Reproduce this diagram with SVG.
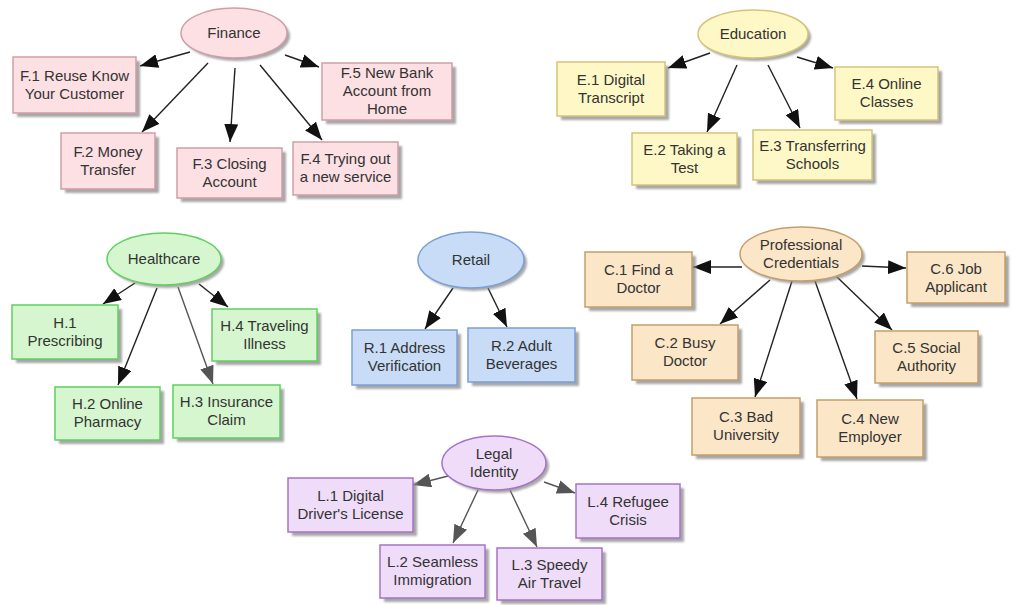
<svg xmlns="http://www.w3.org/2000/svg" width="1011" height="605" viewBox="0 0 1011 605">
<defs>
<style>
text{font-family:"Liberation Sans",Arial,sans-serif;font-size:15px;fill:#333;text-anchor:middle}
.sh{fill:#8a8a8a;opacity:.75;filter:url(#blur)}
.fin{fill:#fce0e4;stroke:#cf9ea8;stroke-width:1.5}
.edu{fill:#fdf8c6;stroke:#d4c47a;stroke-width:1.5}
.hea{fill:#d6f6d0;stroke:#5fd05f;stroke-width:1.5}
.ret{fill:#c8dcf7;stroke:#7b9fd8;stroke-width:1.5}
.cre{fill:#fbe6c8;stroke:#c49e6a;stroke-width:1.5}
.leg{fill:#eedcf9;stroke:#a673c8;stroke-width:1.5}
.e{stroke:#222;stroke-width:1.4;fill:none;marker-end:url(#ah)}
.g{stroke:#555;stroke-width:1.4;fill:none;marker-end:url(#ahg)}
</style>
<filter id="blur" x="-10%" y="-10%" width="130%" height="130%"><feGaussianBlur stdDeviation="1"/></filter>
<marker id="ah" markerUnits="userSpaceOnUse" markerWidth="18" markerHeight="14" refX="18" refY="7" orient="auto"><path d="M0,0 L18,7 L0,14 z" fill="#111"/></marker>
<marker id="ahg" markerUnits="userSpaceOnUse" markerWidth="18" markerHeight="14" refX="18" refY="7" orient="auto"><path d="M0,0 L18,7 L0,14 z" fill="#555"/></marker>
</defs>
<rect width="1011" height="605" fill="#fff"/>

<g id="connectors">
<line class="e" x1="190" y1="52" x2="140" y2="66"/>
<line class="e" x1="208" y1="63" x2="142" y2="132"/>
<line class="e" x1="235" y1="68" x2="230" y2="142"/>
<line class="e" x1="260" y1="65" x2="322" y2="140"/>
<line class="e" x1="285" y1="55" x2="319" y2="67"/>

<line class="e" x1="710" y1="53" x2="668" y2="68"/>
<line class="e" x1="737" y1="65" x2="707" y2="132"/>
<line class="e" x1="768" y1="65" x2="800" y2="128"/>
<line class="e" x1="797" y1="57" x2="833" y2="68"/>

<line class="e" x1="135" y1="283" x2="103" y2="304"/>
<line class="e" x1="157" y1="288" x2="118" y2="385"/>
<line class="g" x1="178" y1="287" x2="213" y2="384"/>
<line class="e" x1="199" y1="284" x2="228" y2="307"/>

<line class="e" x1="453" y1="288" x2="425" y2="329"/>
<line class="e" x1="488" y1="288" x2="507" y2="327"/>

<line class="e" x1="742" y1="267" x2="693" y2="267"/>
<line class="e" x1="770" y1="280" x2="720" y2="324"/>
<line class="e" x1="792" y1="281" x2="755" y2="397"/>
<line class="e" x1="815" y1="281" x2="857" y2="399"/>
<line class="e" x1="837" y1="277" x2="892" y2="330"/>
<line class="e" x1="862" y1="266" x2="906" y2="268"/>

<line class="g" x1="448" y1="476" x2="413" y2="485"/>
<line class="g" x1="478" y1="490" x2="453" y2="543"/>
<line class="g" x1="510" y1="490" x2="537" y2="547"/>
<line class="g" x1="544" y1="482" x2="575" y2="493"/>
</g>

<!-- Finance -->
<g id="finance">
<ellipse class="sh" cx="237" cy="36" rx="53" ry="25"/>
<ellipse class="fin" cx="234" cy="33" rx="53" ry="25"/>
<text x="234" y="38">Finance</text>
</g>
<g id="f1"><rect class="sh" x="17" y="61" width="123" height="56"/><rect class="fin" x="13" y="57" width="123" height="56"/><text x="74.5" y="81">F.1 Reuse Know</text><text x="74.5" y="99">Your Customer</text></g>
<g id="f2"><rect class="sh" x="65" y="137" width="94" height="56"/><rect class="fin" x="61" y="133" width="94" height="56"/><text x="108" y="157">F.2 Money</text><text x="108" y="175">Transfer</text></g>
<g id="f3"><rect class="sh" x="181" y="152" width="105" height="50"/><rect class="fin" x="177" y="148" width="105" height="50"/><text x="229.5" y="169">F.3 Closing</text><text x="229.5" y="187">Account</text></g>
<g id="f4"><rect class="sh" x="297" y="146" width="105" height="53"/><rect class="fin" x="293" y="142" width="105" height="53"/><text x="345.5" y="164">F.4 Trying out</text><text x="345.5" y="182">a new service</text></g>
<g id="f5"><rect class="sh" x="326" y="67" width="130" height="57"/><rect class="fin" x="322" y="63" width="130" height="57"/><text x="387" y="78">F.5 New Bank</text><text x="387" y="96">Account from</text><text x="387" y="114">Home</text></g>

<!-- Education -->
<g id="education">
<ellipse class="sh" cx="756" cy="37" rx="55" ry="24"/>
<ellipse class="edu" cx="753" cy="34" rx="55" ry="24"/>
<text x="753" y="39">Education</text>
</g>
<g id="e1"><rect class="sh" x="561" y="66" width="108" height="54"/><rect class="edu" x="557" y="62" width="108" height="54"/><text x="611" y="85">E.1 Digital</text><text x="611" y="103">Transcript</text></g>
<g id="e2"><rect class="sh" x="636" y="137" width="105" height="52"/><rect class="edu" x="632" y="133" width="105" height="52"/><text x="684.5" y="155">E.2 Taking a</text><text x="684.5" y="173">Test</text></g>
<g id="e3"><rect class="sh" x="757" y="134" width="119" height="50"/><rect class="edu" x="753" y="130" width="119" height="50"/><text x="812.5" y="151">E.3 Transferring</text><text x="812.5" y="169">Schools</text></g>
<g id="e4"><rect class="sh" x="839" y="71" width="103" height="53"/><rect class="edu" x="835" y="67" width="103" height="53"/><text x="886.5" y="89">E.4 Online</text><text x="886.5" y="107">Classes</text></g>

<!-- Healthcare -->
<g id="healthcare">
<ellipse class="sh" cx="167" cy="262" rx="57" ry="26"/>
<ellipse class="hea" cx="164" cy="259" rx="57" ry="26"/>
<text x="164" y="264">Healthcare</text>
</g>
<g id="h1"><rect class="sh" x="16" y="309" width="106" height="54"/><rect class="hea" x="12" y="305" width="106" height="54"/><text x="65" y="328">H.1</text><text x="65" y="346">Prescribing</text></g>
<g id="h2"><rect class="sh" x="59" y="391" width="105" height="53"/><rect class="hea" x="55" y="387" width="105" height="53"/><text x="107.5" y="409">H.2 Online</text><text x="107.5" y="427">Pharmacy</text></g>
<g id="h3"><rect class="sh" x="177" y="389" width="107" height="53"/><rect class="hea" x="173" y="385" width="107" height="53"/><text x="226.5" y="407">H.3 Insurance</text><text x="226.5" y="425">Claim</text></g>
<g id="h4"><rect class="sh" x="216" y="313" width="105" height="52"/><rect class="hea" x="212" y="309" width="105" height="52"/><text x="264.5" y="331">H.4 Traveling</text><text x="264.5" y="349">Illness</text></g>

<!-- Retail -->
<g id="retail">
<ellipse class="sh" cx="474" cy="263" rx="53" ry="28"/>
<ellipse class="ret" cx="471" cy="260" rx="53" ry="28"/>
<text x="471" y="265">Retail</text>
</g>
<g id="r1"><rect class="sh" x="356" y="334" width="105" height="55"/><rect class="ret" x="352" y="330" width="105" height="55"/><text x="404.5" y="353">R.1 Address</text><text x="404.5" y="371">Verification</text></g>
<g id="r2"><rect class="sh" x="472" y="332" width="107" height="54"/><rect class="ret" x="468" y="328" width="107" height="54"/><text x="521.5" y="351">R.2 Adult</text><text x="521.5" y="369">Beverages</text></g>

<!-- Professional Credentials -->
<g id="credentials">
<ellipse class="sh" cx="804" cy="257" rx="61" ry="27"/>
<ellipse class="cre" cx="801" cy="254" rx="61" ry="27"/>
<text x="801" y="250">Professional</text><text x="801" y="268">Credentials</text>
</g>
<g id="c1"><rect class="sh" x="589" y="256" width="107" height="55"/><rect class="cre" x="585" y="252" width="107" height="55"/><text x="638.5" y="275">C.1 Find a</text><text x="638.5" y="293">Doctor</text></g>
<g id="c2"><rect class="sh" x="636" y="329" width="106" height="55"/><rect class="cre" x="632" y="325" width="106" height="55"/><text x="685" y="348">C.2 Busy</text><text x="685" y="366">Doctor</text></g>
<g id="c3"><rect class="sh" x="696" y="402" width="108" height="57"/><rect class="cre" x="692" y="398" width="108" height="57"/><text x="746" y="422">C.3 Bad</text><text x="746" y="440">University</text></g>
<g id="c4"><rect class="sh" x="821" y="404" width="106" height="57"/><rect class="cre" x="817" y="400" width="106" height="57"/><text x="870" y="424">C.4 New</text><text x="870" y="442">Employer</text></g>
<g id="c5"><rect class="sh" x="879" y="335" width="103" height="52"/><rect class="cre" x="875" y="331" width="103" height="52"/><text x="926.5" y="353">C.5 Social</text><text x="926.5" y="371">Authority</text></g>
<g id="c6"><rect class="sh" x="911" y="256" width="98" height="51"/><rect class="cre" x="907" y="252" width="98" height="51"/><text x="956" y="274">C.6 Job</text><text x="956" y="292">Applicant</text></g>

<!-- Legal Identity -->
<g id="legal">
<ellipse class="sh" cx="497" cy="466" rx="52" ry="27"/>
<ellipse class="leg" cx="494" cy="463" rx="52" ry="27"/>
<text x="494" y="459">Legal</text><text x="494" y="477">Identity</text>
</g>
<g id="l1"><rect class="sh" x="292" y="482" width="125" height="54"/><rect class="leg" x="288" y="478" width="125" height="54"/><text x="350.5" y="501">L.1 Digital</text><text x="350.5" y="519">Driver's License</text></g>
<g id="l2"><rect class="sh" x="384" y="549" width="105" height="53"/><rect class="leg" x="380" y="545" width="105" height="53"/><text x="432.5" y="567">L.2 Seamless</text><text x="432.5" y="585">Immigration</text></g>
<g id="l3"><rect class="sh" x="501" y="552" width="105" height="52"/><rect class="leg" x="497" y="548" width="105" height="52"/><text x="549.5" y="570">L.3 Speedy</text><text x="549.5" y="588">Air Travel</text></g>
<g id="l4"><rect class="sh" x="580" y="488" width="104" height="54"/><rect class="leg" x="576" y="484" width="104" height="54"/><text x="628" y="507">L.4 Refugee</text><text x="628" y="525">Crisis</text></g>
</svg>
